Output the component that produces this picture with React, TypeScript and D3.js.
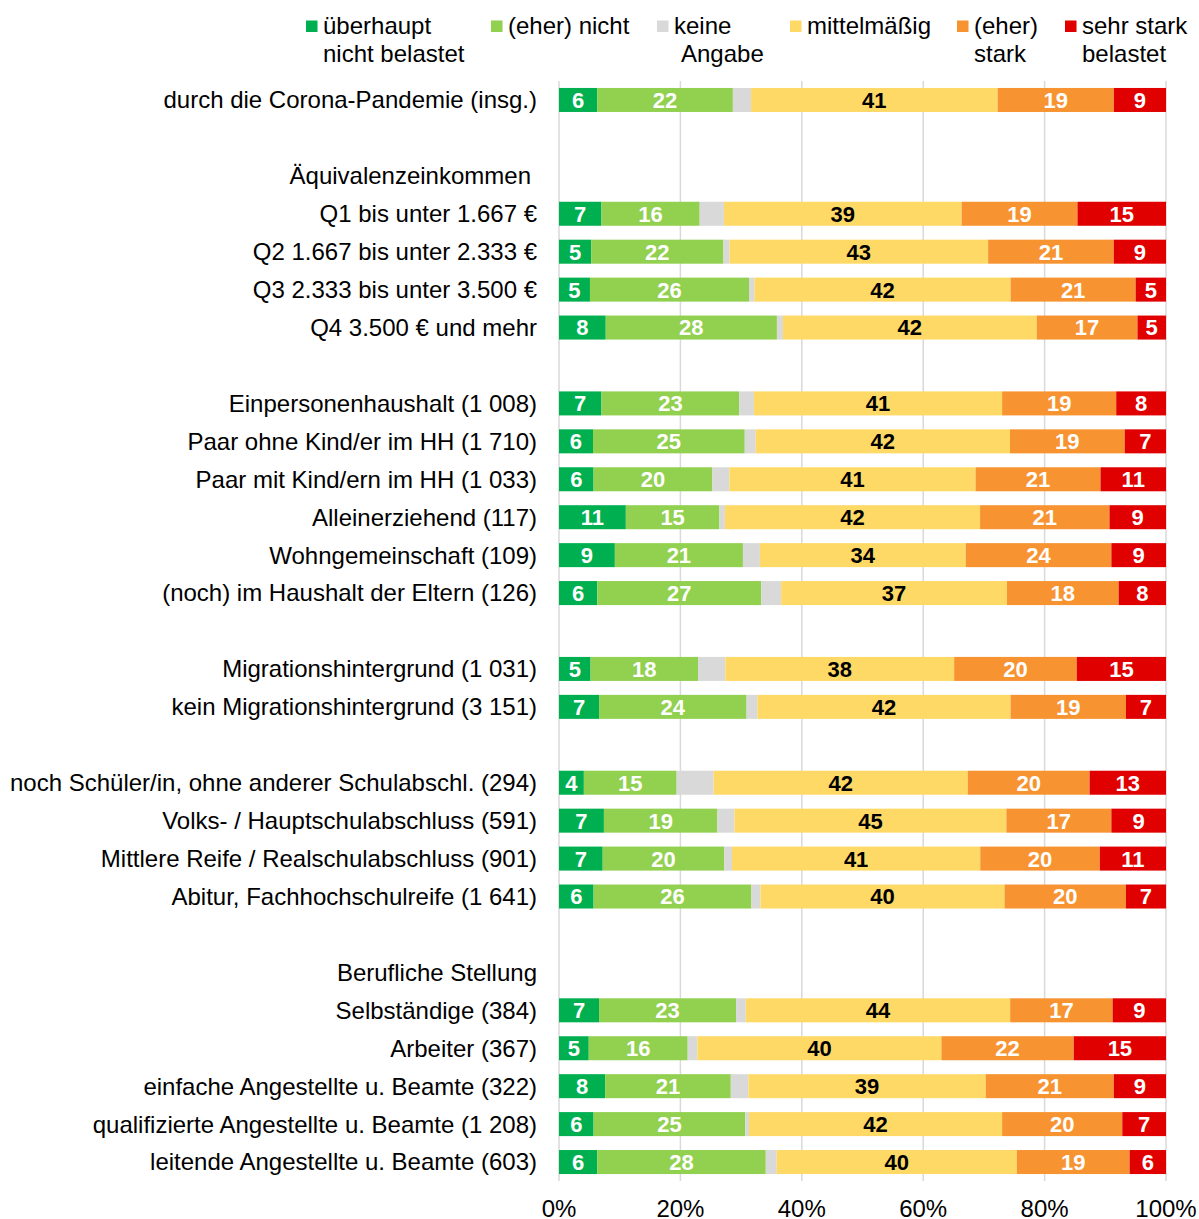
import React from "react";
import * as d3 from "d3";

const categories = [
  "durch die Corona-Pandemie (insg.)",
  "Q1 bis unter 1.667 €",
  "Q2 1.667 bis unter 2.333 €",
  "Q3 2.333 bis unter 3.500 €",
  "Q4 3.500 € und mehr",
  "Einpersonenhaushalt (1 008)",
  "Paar ohne Kind/er im HH (1 710)",
  "Paar mit Kind/ern im HH (1 033)",
  "Alleinerziehend (117)",
  "Wohngemeinschaft (109)",
  "(noch) im Haushalt der Eltern (126)",
  "Migrationshintergrund (1 031)",
  "kein Migrationshintergrund (3 151)",
  "noch Schüler/in, ohne anderer Schulabschl. (294)",
  "Volks- / Hauptschulabschluss (591)",
  "Mittlere Reife / Realschulabschluss (901)",
  "Abitur, Fachhochschulreife (1 641)",
  "Selbständige (384)",
  "Arbeiter (367)",
  "einfache Angestellte u. Beamte (322)",
  "qualifizierte Angestellte u. Beamte (1 208)",
  "leitende Angestellte u. Beamte (603)",
];

// group headings and group sizes (number of categories per group)
const groupHeadings = ["", "Äquivalenzeinkommen", "", "", "", "Berufliche Stellung"];
const groupSizes = [1, 4, 6, 2, 4, 5];

const seriesNames = [
  ["überhaupt", "nicht belastet"],
  ["(eher) nicht"],
  ["keine", "Angabe"],
  ["mittelmäßig"],
  ["(eher)", "stark"],
  ["sehr stark", "belastet"],
];

const ueberhauptNicht = [6.3, 7.0, 5.3, 5.1, 7.7, 7.0, 5.6, 5.7, 11.0, 9.2, 6.3, 5.2, 6.6, 4.1, 7.4, 7.2, 5.7, 6.6, 4.9, 7.6, 5.7, 6.3];
const eherNicht = [22.4, 16.2, 21.8, 26.2, 28.2, 22.7, 25.0, 19.6, 15.4, 21.1, 27.0, 17.7, 24.3, 15.3, 18.7, 20.0, 26.0, 22.6, 16.3, 20.7, 25.0, 27.8];
const keineAngabe = [3.0, 4.0, 1.0, 0.9, 1.0, 2.4, 1.8, 2.8, 0.9, 2.8, 3.3, 4.5, 1.8, 6.1, 2.8, 1.3, 1.5, 1.6, 1.6, 2.9, 0.6, 1.8];
const mittelmaessig = [40.7, 39.2, 42.6, 42.2, 41.8, 40.9, 41.9, 40.6, 42.0, 33.9, 37.2, 37.7, 41.7, 41.9, 44.8, 40.9, 40.2, 43.6, 40.2, 39.1, 41.7, 39.6];
const eherStark = [19.2, 19.1, 20.7, 20.6, 16.6, 18.8, 18.9, 20.6, 21.3, 24.0, 18.4, 20.2, 19.0, 20.1, 17.3, 19.7, 20.0, 16.9, 21.8, 21.1, 19.8, 18.6];
const sehrStark = [8.6, 14.6, 8.6, 5.0, 4.7, 8.2, 6.8, 10.8, 9.3, 9.0, 7.8, 14.7, 6.6, 12.6, 9.0, 10.9, 6.6, 8.8, 15.2, 8.6, 7.2, 6.0];

const xTicks = [0, 20, 40, 60, 80, 100];

const series = [ueberhauptNicht, eherNicht, keineAngabe, mittelmaessig, eherStark, sehrStark];
const colors = ["#00B050", "#92D050", "#D9D9D9", "#FFD966", "#F79431", "#E00000"];
const labelColors = ["#FFFFFF", "#FFFFFF", null, "#000000", "#FFFFFF", "#FFFFFF"];

const FONT = "Arial, 'Liberation Sans', sans-serif";

export default function App() {
  const width = 1199;
  const height = 1219;

  type Slot = { key: string; kind: "bar" | "head" | "blank"; label: string; idx?: number };
  const slots: Slot[] = [];
  let ci = 0;
  groupSizes.forEach((size, g) => {
    if (g > 0) slots.push({ key: "blank" + g, kind: "blank", label: "" });
    if (groupHeadings[g]) slots.push({ key: "head" + g, kind: "head", label: groupHeadings[g] });
    for (let k = 0; k < size; k++) {
      slots.push({ key: "cat" + ci, kind: "bar", label: categories[ci], idx: ci });
      ci++;
    }
  });

  const x = d3.scaleLinear().domain([0, 100]).range([559, 1166]);
  const y = d3
    .scaleBand<string>()
    .domain(slots.map((s) => s.key))
    .range([81, 1181])
    .paddingInner(0.367)
    .paddingOuter(0.1835);

  const stackData = categories.map((_, i) => {
    const obj: Record<string, number> = {};
    const total = d3.sum(series, (s) => s[i]);
    series.forEach((s, k) => (obj["s" + k] = (s[i] / total) * 100));
    return obj;
  });
  const stack = d3.stack<Record<string, number>>().keys(series.map((_, k) => "s" + k));
  const stacked = stack(stackData);

  const legendX = [306, 491, 657, 790, 957, 1065];
  const gridTop = y.range()[0];
  const gridBottom = y.range()[1];

  return (
    <svg
      width={width}
      height={height}
      style={{ position: "absolute", left: 0, top: 0, background: "#fff" }}
      fontFamily={FONT}
    >
      <rect width={width} height={height} fill="#fff" />
      {xTicks.map((t) => (
        <line key={t} x1={x(t)} x2={x(t)} y1={gridTop} y2={gridBottom} stroke="#D9D9D9" strokeWidth={1.5} />
      ))}
      {seriesNames.map((lines, k) => (
        <g key={k}>
          <rect x={legendX[k]} y={20.5} width={11.5} height={11.5} fill={colors[k]} />
          {lines.map((ln, j) => (
            <text
              key={j}
              x={legendX[k] + 17 + (k === 2 && j === 1 ? 7 : 0)}
              y={34 + j * 28}
              fontSize={24}
              fill="#000"
            >
              {ln}
            </text>
          ))}
        </g>
      ))}
      {slots
        .filter((s) => s.kind !== "blank")
        .map((s) => (
          <text
            key={s.key}
            x={s.kind === "head" && s.label.startsWith("Ä") ? 531 : 537}
            y={(y(s.key) as number) + y.bandwidth() / 2}
            dy="0.35em"
            textAnchor="end"
            fontSize={24}
            fill="#000"
          >
            {s.label}
          </text>
        ))}
      {stacked.map((layer, k) => (
        <g key={layer.key}>
          {layer.map((d, i) => {
            const key = "cat" + i;
            const y0 = y(key) as number;
            const x0 = x(d[0]);
            const x1 = x(d[1]);
            const raw = series[k][i];
            return (
              <g key={i}>
                <rect x={x0} y={y0} width={x1 - x0} height={y.bandwidth()} fill={colors[k]} />
                {labelColors[k] && (
                  <text
                    x={(x0 + x1) / 2}
                    y={y0 + y.bandwidth() / 2}
                    dy="0.36em"
                    textAnchor="middle"
                    fontSize={22}
                    fontWeight="bold"
                    fill={labelColors[k] as string}
                  >
                    {Math.round(raw)}
                  </text>
                )}
              </g>
            );
          })}
        </g>
      ))}
      {xTicks.map((t) => (
        <text key={t} x={x(t)} y={1217} textAnchor="middle" fontSize={24} fill="#000">
          {t + "%"}
        </text>
      ))}
    </svg>
  );
}
